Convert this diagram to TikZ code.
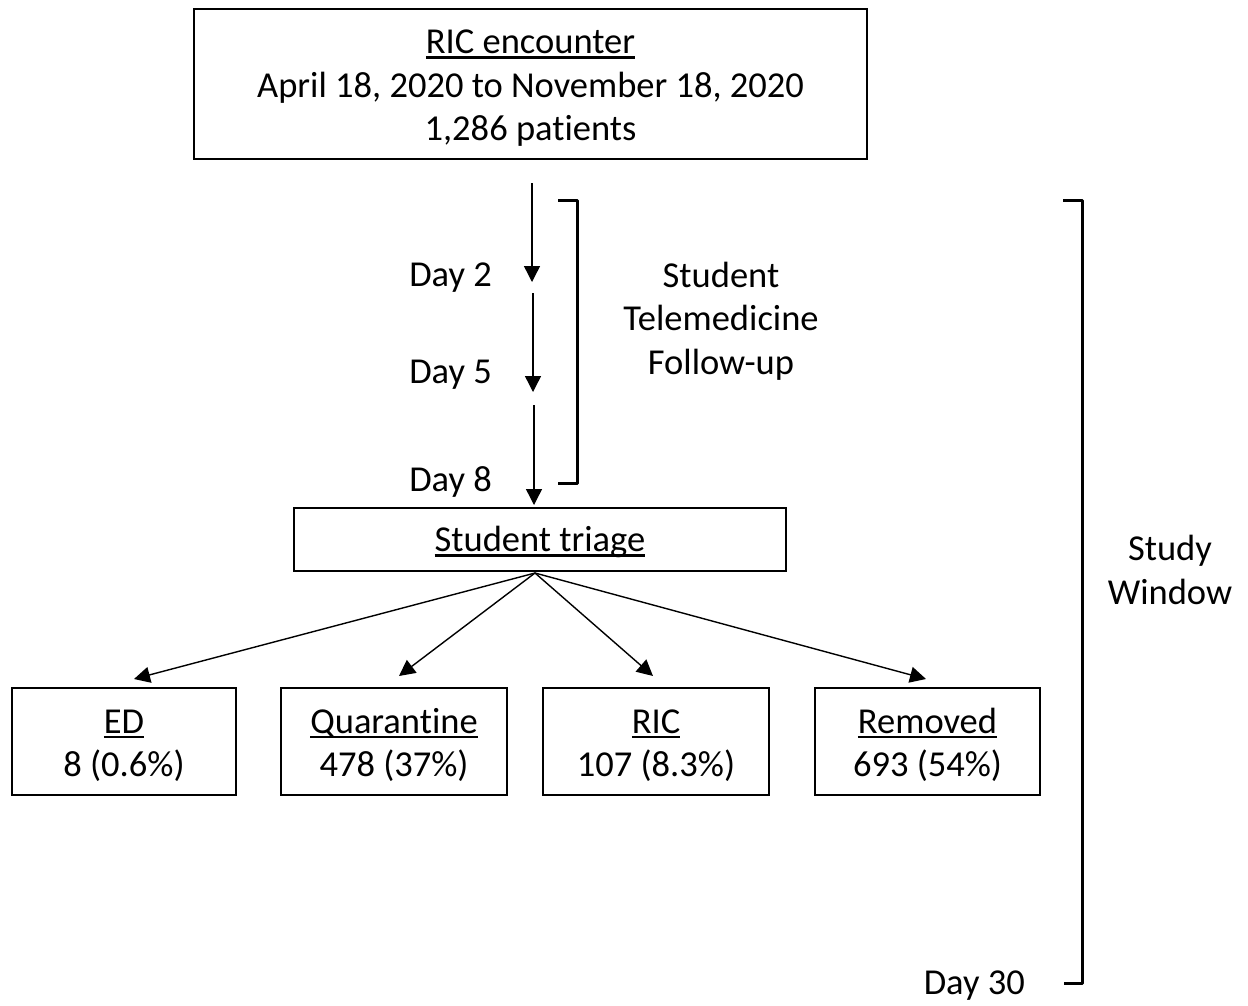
\documentclass[tikz,border=0pt]{standalone}
\usepackage{fontspec}
\setmainfont{Carlito}[Ligatures=NoCommon]
\usetikzlibrary{arrows.meta}
\newcommand\ulx[1]{\setbox0\hbox{#1}\rlap{\copy0}\rule[-5pt]{\wd0}{2.4pt}}
\newcommand\strtx{\rule{0pt}{32pt}}
\begin{document}
\begin{tikzpicture}[x=1pt,y=-1pt,
  every node/.style={font=\fontsize{36.5}{43.5}\selectfont, inner sep=0pt},
  box/.style={draw, line width=1.4pt, align=center},
  arr/.style={line width=1.4pt, -{Triangle[width=16pt,length=16pt]}},
  brk/.style={line width=3pt, line join=round},
  lbl/.style={align=center}]
\useasboundingbox (0,0) rectangle (1248,1005);
% top box
\node[box, minimum width=673pt, minimum height=150pt] (top) at (530.5,84)
  {\strtx\ulx{RIC encounter}\\April 18, 2020 to November 18, 2020\\1,286 patients};
% day arrows
\coordinate (a1s) at (532,183); \coordinate (a1e) at (532,282);
\coordinate (a2s) at (533,293); \coordinate (a2e) at (533,392);
\coordinate (a3s) at (534,405); \coordinate (a3e) at (534,505);
\draw[arr] (a1s) -- (a1e);
\draw[arr] (a2s) -- (a2e);
\draw[arr] (a3s) -- (a3e);
\node[anchor=east] (d2) at (492,278) {Day 2};
\node[anchor=east] (d5) at (492,375) {Day 5};
\node[anchor=east] (d8) at (492,482) {Day 8};
% small bracket
\coordinate (b1a) at (558,200); \coordinate (b1b) at (577,200);
\coordinate (b1c) at (577,483); \coordinate (b1d) at (558,483);
\draw[brk] (b1a) -- (b1b) -- (b1c) -- (b1d);
\node[lbl] (tele) at (721,321) {Student\\Telemedicine\\Follow-up};
% triage
\node[box, minimum width=492pt, minimum height=63pt] (tri) at (540,539.5) {\rule{0pt}{31pt}\ulx{Student triage}};
\coordinate (src) at (535,573);
% outcome boxes
\node[box, minimum width=224pt, minimum height=107pt] (ed) at (124,741.5) {\strtx\ulx{ED}\\8 (0.6\%)};
\node[box, minimum width=226pt, minimum height=107pt] (qu) at (394,741.5) {\strtx\ulx{Quarantine}\\478 (37\%)};
\node[box, minimum width=226pt, minimum height=107pt] (ric) at (656,741.5) {\strtx\ulx{RIC}\\107 (8.3\%)};
\node[box, minimum width=225pt, minimum height=107pt] (rem) at (927.5,741.5) {\strtx\ulx{Removed}\\693 (54\%)};
\coordinate (t1) at (134,679); \coordinate (t2) at (399,676);
\coordinate (t3) at (653,676); \coordinate (t4) at (926,679);
\draw[arr] (src) -- (t1);
\draw[arr] (src) -- (t2);
\draw[arr] (src) -- (t3);
\draw[arr] (src) -- (t4);
% big bracket
\coordinate (b2a) at (1063,200); \coordinate (b2b) at (1082,200);
\coordinate (b2c) at (1082,983); \coordinate (b2d) at (1064,983);
\draw[brk] (b2a) -- (b2b) -- (b2c) -- (b2d);
\node[lbl] (sw) at (1170,570) {Study\\Window};
\node[anchor=east] (d30) at (1025,986) {Day 30};
\end{tikzpicture}
\end{document}
